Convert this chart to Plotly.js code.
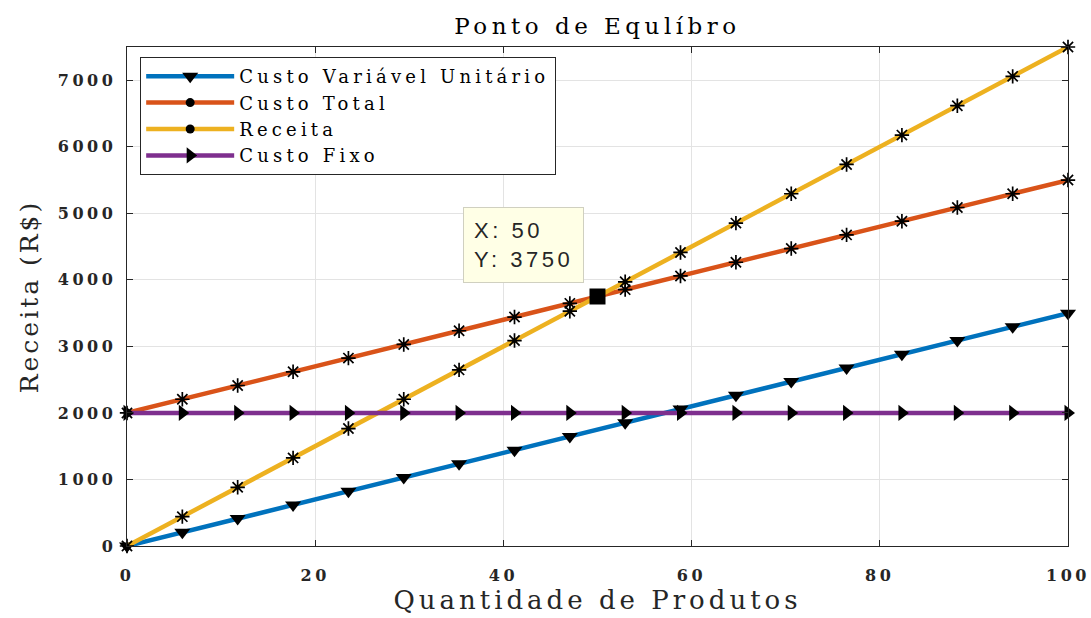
<!DOCTYPE html>
<html>
<head>
<meta charset="utf-8">
<script src="https://cdn.plot.ly/plotly-3.0.1.min.js"></script>
<style>
html,body{margin:0;padding:0;background:#fff;}
#chart{width:1091px;height:618px;}
.xtick text,.ytick text{letter-spacing:3.6px;}
.legendtext{letter-spacing:4.2px;}
.gtitle{letter-spacing:4.5px;}
.xtitle{letter-spacing:4px;}
.ytitle{letter-spacing:3px;}
.annotation-text{letter-spacing:3.5px;}
</style>
</head>
<body>
<div id="chart"></div>
<script>
// Quantidade de produtos (marker positions)
const quantidade = [0, 5.88, 11.76, 17.65, 23.53, 29.41, 35.29, 41.18, 47.06, 52.94, 58.82, 64.71, 70.59, 76.47, 82.35, 88.24, 94.12, 100];
const custoVariavel = [0, 206, 412, 618, 824, 1029, 1235, 1441, 1647, 1853, 2059, 2265, 2471, 2676, 2882, 3088, 3294, 3500];
const custoTotal = [2000, 2206, 2412, 2618, 2824, 3029, 3235, 3441, 3647, 3853, 4059, 4265, 4471, 4676, 4882, 5088, 5294, 5500];
const receita = [0, 441, 882, 1324, 1765, 2206, 2647, 3088, 3529, 3971, 4412, 4853, 5294, 5735, 6176, 6618, 7059, 7500];
const custoFixo = [2000, 2000, 2000, 2000, 2000, 2000, 2000, 2000, 2000, 2000, 2000, 2000, 2000, 2000, 2000, 2000, 2000, 2000];
const seriesNames = ['Custo Variável Unitário', 'Custo Total', 'Receita', 'Custo Fixo'];
const equilibrioX = [50];
const equilibrioY = [3750];
const xTicks = [0, 20, 40, 60, 80, 100];
const yTicks = [0, 1000, 2000, 3000, 4000, 5000, 6000, 7000];

const colors = ['#0072BD', '#D95319', '#EDB120', '#7E2F8E'];
const serif = 'DejaVu Serif, serif';

function mk(name, y, color, symbol, filled) {
  return {
    x: quantidade, y: y, name: name, type: 'scatter', mode: 'lines+markers',
    showlegend: false, cliponaxis: false,
    line: {color: color, width: 4.5},
    marker: filled ? {symbol: symbol, size: 14, color: 'black'}
                   : {symbol: symbol, size: 12, color: 'black', line: {color: 'black', width: 1.7}}
  };
}
function leg(name, color, symbol) {
  return {
    x: [null], y: [null], name: name, type: 'scatter', mode: 'lines+markers',
    line: {color: color, width: 4.5},
    marker: {symbol: symbol, size: symbol === 'circle' ? 9 : 14, color: 'black'}
  };
}

const data = [
  mk(seriesNames[0], custoVariavel, colors[0], 'triangle-down', true),
  mk(seriesNames[1], custoTotal, colors[1], 'asterisk-open', false),
  mk(seriesNames[2], receita, colors[2], 'asterisk-open', false),
  mk(seriesNames[3], custoFixo, colors[3], 'triangle-right', true),
  {x: equilibrioX, y: equilibrioY, type: 'scatter', mode: 'markers', showlegend: false,
   marker: {symbol: 'square', size: 16, color: 'black'}},
  leg(seriesNames[0], colors[0], 'triangle-down'),
  leg(seriesNames[1], colors[1], 'circle'),
  leg(seriesNames[2], colors[2], 'circle'),
  leg(seriesNames[3], colors[3], 'triangle-right')
];

const axisCommon = {
  showline: true, linecolor: '#262626', linewidth: 1.2, mirror: 'ticks',
  ticks: 'inside', ticklen: 6, tickcolor: '#262626', tickwidth: 1,
  showgrid: true, gridcolor: '#e3e3e3', gridwidth: 1, zeroline: false,
  tickfont: {family: serif, size: 16, color: '#262626', weight: 'bold'}
};

const layout = {
  width: 1091, height: 618,
  margin: {l: 127, r: 23, t: 47, b: 72},
  paper_bgcolor: '#fff', plot_bgcolor: '#fff',
  title: {text: 'Ponto de Equlíbro', x: 0.5, xref: 'paper', xanchor: 'center',
          y: 0.958, yref: 'container', yanchor: 'middle',
          font: {family: serif, size: 23, color: '#000'}},
  xaxis: Object.assign({}, axisCommon, {
    range: [0, 100], tickvals: xTicks, ticklabelstandoff: 15, ticklabeloverflow: 'allow',
    title: {text: 'Quantidade de Produtos', standoff: 6, font: {family: serif, size: 26, color: '#262626'}}
  }),
  yaxis: Object.assign({}, axisCommon, {
    range: [0, 7500], tickvals: yTicks, ticklabelstandoff: 6,
    title: {text: 'Receita (R$)', standoff: 12, font: {family: serif, size: 25, color: '#262626'}}
  }),
  showlegend: true,
  legend: {x: 0.014, y: 0.98, xanchor: 'left', yanchor: 'top',
           bgcolor: '#fff', bordercolor: '#262626', borderwidth: 1,
           itemwidth: 88, tracegroupgap: 0,
           font: {family: serif, size: 18, color: '#000'}},
  annotations: [{
    x: equilibrioX[0], y: equilibrioY[0], xref: 'x', yref: 'y',
    text: 'X: 50<br>Y: 3750', showarrow: false, align: 'left',
    xanchor: 'right', yanchor: 'bottom', xshift: -14, yshift: 14,
    font: {family: 'Liberation Sans, Arial, sans-serif', size: 22, color: '#262626'},
    bgcolor: '#ffffe6', bordercolor: '#d0d0c0', borderwidth: 1, borderpad: 10
  }]
};

Plotly.newPlot('chart', data, layout, {displayModeBar: false, staticPlot: true});
</script>
</body>
</html>
